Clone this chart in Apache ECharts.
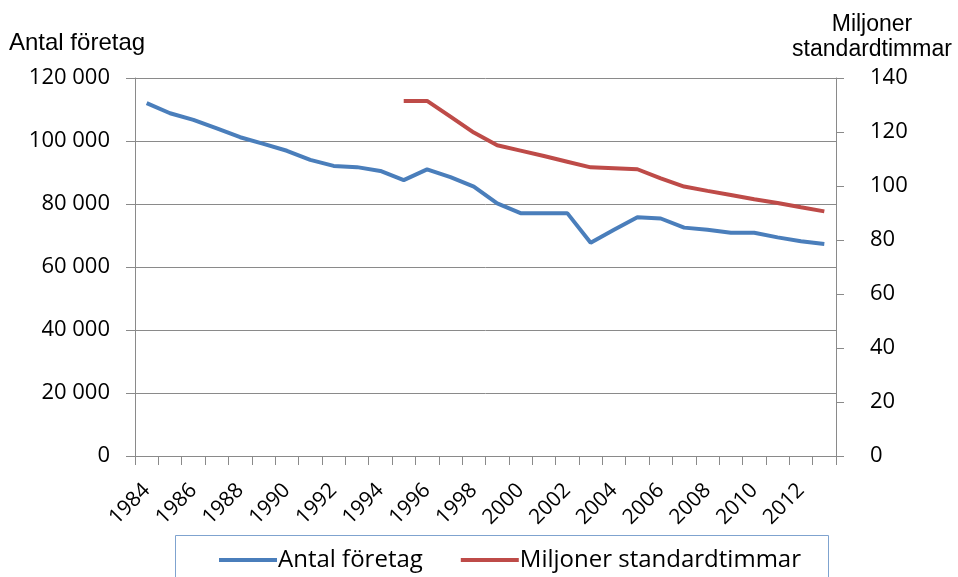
<!DOCTYPE html>
<html><head><meta charset="utf-8">
<script src="https://cdn.jsdelivr.net/npm/echarts@6/dist/echarts.min.js"></script>
<style>html,body{margin:0;padding:0;background:#fff}#c{width:958px;height:577px}</style>
</head><body><div id="c"></div>
<script>
const years = ['1984','1985','1986','1987','1988','1989','1990','1991','1992','1993','1994','1995','1996','1997','1998','1999','2000','2001','2002','2003','2004','2005','2006','2007','2008','2009','2010','2011','2012','2013'];
const antalForetag = [112000,108800,106700,104000,101200,99100,96900,94000,92100,91700,90500,87600,91000,88500,85500,80200,77100,77100,77100,67700,71800,75800,75400,72500,71800,70900,70900,69400,68200,67300];
const miljonerStandardtimmar = [null,null,null,null,null,null,null,null,null,null,null,131.5,131.5,125.7,119.8,115.1,113.1,111.1,109.0,106.9,106.6,106.2,102.8,99.8,98.2,96.7,95.1,93.7,92.1,90.6];
const leftTicks = [0,20000,40000,60000,80000,100000,120000];
const rightTicks = [0,20,40,60,80,100,120,140];
const seriesNames = ['Antal företag','Miljoner standardtimmar'];

const numFont = '"Open Sans", "Liberation Sans", sans-serif';
const chart = echarts.init(document.getElementById('c'), null, {renderer:'canvas'});
const gray = '#8a8a8a';
chart.setOption({
  animation:false,
  backgroundColor:'#fff',
  grid:{left:135, right:122, top:78, bottom:121},
  graphic:[
    {type:'rect', shape:{x:175.5, y:535.5, width:653, height:60}, style:{fill:'none', stroke:'#7fa3cf', lineWidth:1}, z:-1},
    {type:'text', left:9, top:31, style:{text:'Antal företag', font:'24px "Liberation Sans", Arial, sans-serif', fill:'#000'}},
    {type:'text', x:872, y:12, style:{text:'Miljoner\nstandardtimmar', align:'center', font:'23px "Liberation Sans", Arial, sans-serif', lineHeight:25, fill:'#000'}}
  ],
  legend:{
    left:214, top:543,
    itemWidth:58, itemHeight:4, itemGap:38,
    icon:'rect',
    textStyle:{fontFamily:'"Open Sans", sans-serif', fontSize:24, color:'#000', padding:[0,0,0,-4]},
    data:seriesNames
  },
  xAxis:{
    type:'category', data:years, boundaryGap:true,
    axisLine:{lineStyle:{color:gray, width:1}},
    axisTick:{show:true, alignWithLabel:false, interval:0, length:9, inside:false, lineStyle:{color:gray}},
    axisLabel:{interval:1, rotate:45, margin:31, color:'#000', fontFamily:numFont, fontSize:21}
  },
  yAxis:[
    {type:'value', min:0, max:120000, interval:20000, position:'left',
     axisLine:{show:true, lineStyle:{color:gray}},
     axisTick:{show:true, length:9, lineStyle:{color:gray}},
     splitLine:{show:true, lineStyle:{color:gray, width:1}},
     axisLabel:{margin:25, color:'#000', fontFamily:numFont, fontSize:22,
       formatter:v => v===0 ? '0' : String(v).replace(/\B(?=(\d{3})+(?!\d))/g,' ')}},
    {type:'value', min:0, max:140, interval:20, position:'right',
     axisLine:{show:true, lineStyle:{color:gray}},
     axisTick:{show:true, length:8, lineStyle:{color:gray}},
     splitLine:{show:false},
     axisLabel:{margin:34, color:'#000', fontFamily:numFont, fontSize:22}}
  ],
  series:[
    {name:seriesNames[0], type:'line', yAxisIndex:0, data:antalForetag, symbol:'none',
     lineStyle:{color:'#4a7ebb', width:4}, itemStyle:{color:'#4a7ebb'}},
    {name:seriesNames[1], type:'line', yAxisIndex:1, data:miljonerStandardtimmar, symbol:'none', connectNulls:false,
     lineStyle:{color:'#be4b48', width:4}, itemStyle:{color:'#be4b48'}}
  ]
});
</script></body></html>
